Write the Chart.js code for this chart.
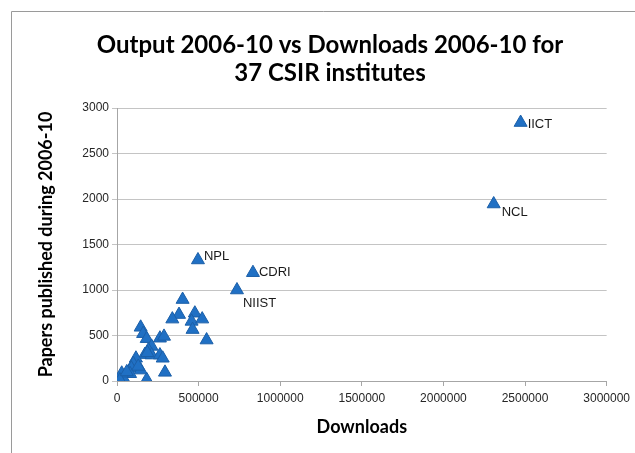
<!DOCTYPE html>
<html>
<head>
<meta charset="utf-8">
<script src="https://cdn.jsdelivr.net/npm/chart.js@4/dist/chart.umd.min.js"></script>
<style>
  html, body { margin: 0; padding: 0; background: #ffffff; }
  #wrap { width: 635px; height: 453px; position: relative; }
</style>
</head>
<body>
<div id="wrap"><canvas id="c" width="635" height="453"></canvas></div>
<script>
// ---- Data ----
const titleLines = ["Output 2006-10 vs Downloads 2006-10 for", "37 CSIR institutes"];
const xAxisTitle = "Downloads";
const yAxisTitle = "Papers published during 2006-10";

const downloads = [
  2473000, 2308000, 496000, 833000, 735000,
  402000, 380000, 339000, 477000, 457000, 522000, 463000, 549000,
  145000, 160000, 182000, 263000, 288000, 212000, 192000, 171000,
  212000, 263000, 280000, 294000, 182000, 116000, 100000, 88000,
  145000, 80000, 39000, 29000, 18000, 186000, 60000, 130000
];
const papers = [
  2840, 1945, 1330, 1190, 1000,
  895, 730, 680, 745, 655, 680, 565, 450,
  590, 520, 465, 470, 490, 380, 340, 290,
  285, 285, 250, 95, 15, 250, 190, 140,
  120, 80, 30, 85, 10, 310, 100, 160
];
const pointNames = [
  "IICT", "NCL", "NPL", "CDRI", "NIIST",
  "", "", "", "", "", "", "", "",
  "", "", "", "", "", "", "", "",
  "", "", "", "", "", "", "", "",
  "", "", "", "", "", "", "", ""
];
const xTicks = [0, 500000, 1000000, 1500000, 2000000, 2500000, 3000000];
const yTicks = [0, 500, 1000, 1500, 2000, 2500, 3000];

// label placement offsets (px) relative to each labelled point
const labelOffsets = {
  "IICT": [7, 2], "NCL": [8, 8], "NPL": [6, -4], "CDRI": [6, 0], "NIIST": [6, 13]
};

const points = downloads.map((d, i) => ({ x: d, y: papers[i], name: pointNames[i] }));

const frame = {
  id: 'frame',
  beforeDraw(chart) {
    const ctx = chart.ctx;
    ctx.save();
    ctx.fillStyle = '#ffffff';
    ctx.fillRect(0, 0, chart.width, chart.height);
    ctx.strokeStyle = '#9a9a9a';
    ctx.lineWidth = 1;
    ctx.beginPath();
    ctx.moveTo(11.5, chart.height);
    ctx.lineTo(11.5, 11.5);
    ctx.lineTo(chart.width, 11.5);
    ctx.stroke();
    // Title
    ctx.fillStyle = '#000000';
    ctx.font = 'bold 24px Lato, "Open Sans", sans-serif';
    ctx.textAlign = 'center';
    ctx.textBaseline = 'middle';
    ctx.fillText(titleLines[0], 330, 45);
    ctx.fillText(titleLines[1], 330, 73);
    ctx.restore();
  },
  afterDatasetsDraw(chart) {
    const ctx = chart.ctx;
    const meta = chart.getDatasetMeta(0);
    ctx.save();
    ctx.fillStyle = '#1a1a1a';
    ctx.font = '13px "Liberation Sans", Arial, sans-serif';
    ctx.textAlign = 'left';
    ctx.textBaseline = 'middle';
    meta.data.forEach((el, i) => {
      const n = points[i].name;
      if (!n) return;
      const off = labelOffsets[n] || [6, 0];
      ctx.fillText(n, el.x + off[0], el.y + off[1]);
    });
    ctx.restore();
  }
};

new Chart(document.getElementById('c'), {
  type: 'scatter',
  data: {
    datasets: [{
      data: points,
      pointStyle: 'triangle',
      pointRadius: 7.5,
      pointHoverRadius: 7.5,
      backgroundColor: '#2070c4',
      borderColor: '#1b5fa8',
      borderWidth: 1
    }]
  },
  options: {
    responsive: false,
    animation: false,
    devicePixelRatio: 1,
    layout: { padding: { left: 35, right: 28, top: 108, bottom: 10 } },
    plugins: {
      legend: { display: false },
      tooltip: { enabled: false },
      title: { display: false }
    },
    scales: {
      x: {
        type: 'linear',
        min: 0, max: 3000000,
        afterFit(s) { s.height = 62; },
        afterBuildTicks(s) { s.ticks = xTicks.map(v => ({ value: v })); },
        grid: { drawOnChartArea: false, drawTicks: true, tickLength: 5, color: '#a6a6a6' },
        border: { color: '#a6a6a6' },
        ticks: {
          padding: 5,
          color: '#262626',
          font: { family: '"Liberation Sans", Arial, sans-serif', size: 12 },
          maxRotation: 0,
          callback: v => String(v)
        },
        title: {
          display: true, text: xAxisTitle, color: '#000',
          font: { family: 'Lato, "Open Sans", sans-serif', size: 18, weight: 'bold' },
          padding: { top: 0, bottom: 5 }
        }
      },
      y: {
        type: 'linear',
        min: 0, max: 3000,
        afterFit(s) { s.width = 82; },
        afterBuildTicks(s) { s.ticks = yTicks.map(v => ({ value: v })); },
        grid: { drawTicks: true, tickLength: 5, color: '#c4c4c4' },
        border: { color: '#a6a6a6' },
        ticks: {
          padding: 3,
          color: '#262626',
          font: { family: '"Liberation Sans", Arial, sans-serif', size: 12 },
          callback: v => String(v)
        },
        title: {
          display: true, text: yAxisTitle, color: '#000',
          font: { family: 'Lato, "Open Sans", sans-serif', size: 18, weight: 'bold' },
          padding: { top: 0, bottom: 0 }
        }
      }
    }
  },
  plugins: [frame]
});
</script>
</body>
</html>
